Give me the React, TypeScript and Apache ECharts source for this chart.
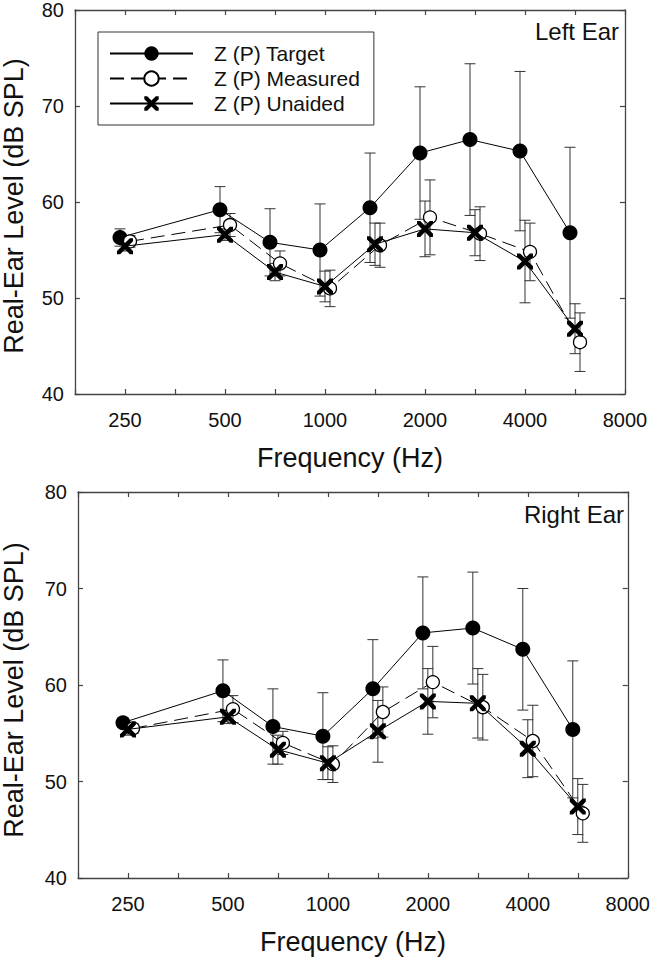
import React, { useEffect, useRef } from 'react';
import * as echarts from 'echarts';

// Audiometric test frequencies (Hz) and their plotting position in octaves re 250 Hz
const freqLabels = [250, 500, 750, 1000, 1500, 2000, 3000, 4000, 6000];
const octavePos = [0, 1, 1.5, 2, 2.5, 3, 3.5, 4, 4.5];

// Left ear
const leftTarget = [56.3, 59.2, 55.8, 55.0, 59.4, 65.1, 66.5, 65.3, 56.8];
const leftTargetSD = [0.9, 2.4, 3.5, 4.8, 5.7, 6.9, 7.9, 8.3, 8.9];
const leftMeasured = [55.9, 57.6, 53.6, 51.0, 55.5, 58.4, 56.7, 54.8, 45.4];
const leftMeasuredSD = [0.6, 1.2, 1.3, 1.9, 2.3, 3.9, 2.8, 3.0, 3.05];
const leftUnaided = [55.4, 56.6, 52.7, 51.2, 55.6, 57.2, 56.8, 53.8, 46.8];
const leftUnaidedSD = [0.5, 0.6, 0.9, 1.6, 2.2, 2.9, 2.4, 4.3, 2.6];

// Right ear
const rightTarget = [56.1, 59.4, 55.7, 54.7, 59.6, 65.4, 65.9, 63.7, 55.4];
const rightTargetSD = [0.5, 3.2, 3.9, 4.5, 5.1, 5.8, 5.8, 6.3, 7.1];
const rightMeasured = [55.5, 57.5, 54.0, 51.8, 57.2, 60.3, 57.7, 54.2, 46.7];
const rightMeasuredSD = [0.5, 1.4, 1.2, 1.9, 2.6, 3.7, 3.4, 3.7, 3.0];
const rightUnaided = [55.4, 56.7, 53.3, 51.9, 55.2, 58.3, 58.1, 53.4, 47.4];
const rightUnaidedSD = [0.6, 0.7, 1.5, 1.7, 3.2, 3.4, 3.6, 3.0, 2.9];

const seriesNames = ['Z (P) Target', 'Z (P) Measured', 'Z (P) Unaided'];
const panelLabels = ['Left Ear', 'Right Ear'];
const yTicks = { min: 40, max: 80, step: 10 };

const FONT = '"Liberation Sans", Arial, Helvetica, sans-serif';
const AXIS_COLOR = '#444';
const ERR_COLOR = '#333';
const X_PATH = 'path://M0,0L2,0L5,3L8,0L10,0L10,2L7,5L10,8L10,10L8,10L5,7L2,10L0,10L0,8L3,5L0,2Z';

const offsets = [-0.05, 0.05, 0];

function pts(vals: number[], off: number) {
  return vals.map((v, i) => [octavePos[i] + off, v]);
}
function errPts(vals: number[], sds: number[], off: number) {
  return vals.map((v, i) => [octavePos[i] + off, v, sds[i]]);
}

const errRender = (params: any, api: any) => {
  const x = api.value(0);
  const y = api.value(1);
  const sd = api.value(2);
  const hi = api.coord([x, y + sd]);
  const lo = api.coord([x, y - sd]);
  const hw = 5.5;
  const style = { stroke: ERR_COLOR, lineWidth: 1 };
  return {
    type: 'group',
    children: [
      { type: 'line', shape: { x1: hi[0], y1: hi[1], x2: lo[0], y2: lo[1] }, style },
      { type: 'line', shape: { x1: hi[0] - hw, y1: hi[1], x2: hi[0] + hw, y2: hi[1] }, style },
      { type: 'line', shape: { x1: lo[0] - hw, y1: lo[1], x2: lo[0] + hw, y2: lo[1] }, style },
    ],
  };
};

function xAxes(gridIndex: number) {
  const base = {
    type: 'value',
    gridIndex,
    min: -0.5,
    max: 5,
    interval: 0.5,
    splitLine: { show: false },
    axisLine: { show: true, onZero: false, lineStyle: { color: AXIS_COLOR, width: 1.3 } },
    axisTick: { show: true, inside: true, length: 5, lineStyle: { color: AXIS_COLOR, width: 1.2 } },
  };
  return [
    {
      ...base,
      position: 'bottom',
      axisLabel: {
        show: true,
        fontSize: 20,
        fontFamily: FONT,
        color: '#111',
        margin: 16,
        showMinLabel: true,
        showMaxLabel: true,
        formatter: (v: number) => (Number.isInteger(v) ? String(freqLabels[0] * Math.pow(2, v)) : ''),
      },
    },
    { ...base, position: 'top', axisLabel: { show: false } },
  ];
}

function yAxes(gridIndex: number) {
  const base = {
    type: 'value',
    gridIndex,
    min: yTicks.min,
    max: yTicks.max,
    interval: yTicks.step,
    splitLine: { show: false },
    axisLine: { show: true, onZero: false, lineStyle: { color: AXIS_COLOR, width: 1.3 } },
    axisTick: { show: true, inside: true, length: 5, lineStyle: { color: AXIS_COLOR, width: 1.2 } },
  };
  return [
    {
      ...base,
      position: 'left',
      axisLabel: { show: true, fontSize: 20, fontFamily: FONT, color: '#111', margin: 11 },
    },
    { ...base, position: 'right', axisLabel: { show: false } },
  ];
}

function panelSeries(
  axis: number,
  target: number[], targetSD: number[],
  measured: number[], measuredSD: number[],
  unaided: number[], unaidedSD: number[]
) {
  const common = { xAxisIndex: axis, yAxisIndex: axis };
  const err = (vals: number[], sds: number[], off: number) => ({
    type: 'custom',
    ...common,
    z: 1,
    silent: true,
    renderItem: errRender,
    encode: { x: 0, y: 1 },
    data: errPts(vals, sds, off),
  });
  return [
    err(target, targetSD, offsets[0]),
    err(measured, measuredSD, offsets[1]),
    err(unaided, unaidedSD, offsets[2]),
    {
      type: 'line',
      name: seriesNames[0],
      ...common,
      z: 3,
      data: pts(target, offsets[0]),
      symbol: 'circle',
      symbolSize: 15,
      itemStyle: { color: '#000', borderWidth: 0 },
      lineStyle: { color: '#000', width: 1 },
    },
    {
      type: 'line',
      name: seriesNames[1],
      ...common,
      z: 4,
      data: pts(measured, offsets[1]),
      symbol: 'circle',
      symbolSize: 13,
      itemStyle: { color: '#fff', borderColor: '#000', borderWidth: 1.3 },
      lineStyle: { color: '#000', width: 1, type: [14, 7] },
    },
    {
      type: 'line',
      name: seriesNames[2],
      ...common,
      z: 5,
      data: pts(unaided, offsets[2]),
      symbol: X_PATH,
      symbolSize: 16,
      symbolKeepAspect: true,
      itemStyle: { color: '#000', borderWidth: 0 },
      lineStyle: { color: '#000', width: 1 },
    },
  ];
}

export default function App() {
  const ref = useRef<HTMLDivElement>(null);

  useEffect(() => {
    if (!ref.current) return;
    const chart = echarts.init(ref.current, undefined, { renderer: 'svg' });
    const grids = [
      { left: 75, top: 8, width: 550, height: 386 },
      { left: 78, top: 492, width: 550, height: 386 },
    ];
    const option: any = {
      animation: false,
      backgroundColor: '#fff',
      textStyle: { fontFamily: FONT },
      grid: grids.map((g) => ({ ...g, containLabel: false })),
      xAxis: [...xAxes(0), ...xAxes(1)],
      yAxis: [...yAxes(0), ...yAxes(1)],
      legend: {
        show: true,
        data: seriesNames,
        orient: 'vertical',
        left: 98,
        top: 32,
        width: 274,
        padding: [11, 14, 11, 11],
        itemWidth: 83,
        itemHeight: 18,
        itemGap: 4,
        borderColor: '#333',
        borderWidth: 1,
        selectedMode: false,
        textStyle: { fontSize: 21, fontFamily: FONT, color: '#111', padding: [0, 0, 0, 16] },
      },
      graphic: [
        {
          type: 'text',
          x: 14,
          y: 206,
          rotation: Math.PI / 2,
          style: { text: 'Real-Ear Level (dB SPL)', fontSize: 27, fontFamily: FONT, fill: '#111', align: 'center', verticalAlign: 'middle' },
        },
        {
          type: 'text',
          x: 14,
          y: 690,
          rotation: Math.PI / 2,
          style: { text: 'Real-Ear Level (dB SPL)', fontSize: 27, fontFamily: FONT, fill: '#111', align: 'center', verticalAlign: 'middle' },
        },
        {
          type: 'text',
          x: 350,
          y: 458,
          style: { text: 'Frequency (Hz)', fontSize: 27, fontFamily: FONT, fill: '#111', align: 'center', verticalAlign: 'middle' },
        },
        {
          type: 'text',
          x: 353,
          y: 942,
          style: { text: 'Frequency (Hz)', fontSize: 27, fontFamily: FONT, fill: '#111', align: 'center', verticalAlign: 'middle' },
        },
        {
          type: 'text',
          x: 619,
          y: 31,
          style: { text: panelLabels[0], fontSize: 24, fontFamily: FONT, fill: '#111', align: 'right', verticalAlign: 'middle' },
        },
        {
          type: 'text',
          x: 624,
          y: 514,
          style: { text: panelLabels[1], fontSize: 24, fontFamily: FONT, fill: '#111', align: 'right', verticalAlign: 'middle' },
        },
      ],
      series: [
        ...panelSeries(0, leftTarget, leftTargetSD, leftMeasured, leftMeasuredSD, leftUnaided, leftUnaidedSD),
        ...panelSeries(2, rightTarget, rightTargetSD, rightMeasured, rightMeasuredSD, rightUnaided, rightUnaidedSD),
      ],
    };
    chart.setOption(option);
    return () => chart.dispose();
  }, []);

  return (
    <div
      ref={ref}
      style={{ position: 'fixed', left: 0, top: 0, width: 653, height: 958, background: '#fff' }}
    />
  );
}
